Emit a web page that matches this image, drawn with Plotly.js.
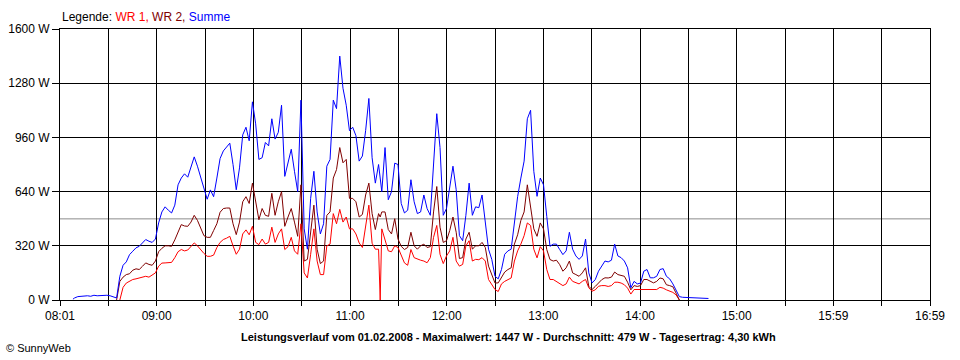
<!DOCTYPE html>
<html>
<head>
<meta charset="utf-8">
<script src="https://cdn.plot.ly/plotly-3.0.1.min.js"></script>
<style>
  html, body { margin: 0; padding: 0; background: #ffffff; }
  #chart { width: 960px; height: 360px; }
</style>
</head>
<body>
<div id="chart"></div>
<script>
// ---- Data ----
const times = [
  "08:09","08:10","08:12","08:14","08:16","08:18","08:20","08:22","08:24","08:26","08:28","08:30","08:32","08:34","08:36",
  "08:38","08:40","08:42","08:44","08:46","08:48","08:50","08:52","08:54","08:56","08:58",
  "09:00","09:02","09:04","09:06","09:08","09:10","09:12","09:14","09:16","09:18","09:20","09:22","09:24","09:26","09:28",
  "09:30","09:32","09:34","09:36","09:38","09:40","09:42","09:44","09:46","09:48","09:50","09:52","09:54","09:56","09:58",
  "10:00","10:02","10:04","10:06","10:08","10:10","10:12","10:14","10:16","10:18","10:20","10:22","10:24","10:26","10:28",
  "10:30","10:32","10:34","10:36","10:38","10:40","10:42","10:44","10:46","10:48","10:50","10:52","10:54","10:56","10:58",
  "11:00","11:02","11:04","11:06","11:08","11:10","11:12","11:14","11:16","11:18","11:19","11:20","11:22","11:24","11:26","11:28",
  "11:30","11:32","11:34","11:36","11:38","11:40","11:42","11:44","11:46","11:48","11:50","11:52","11:54","11:56","11:58",
  "12:00","12:02","12:04","12:06","12:08","12:10","12:12","12:14","12:16","12:18","12:20","12:22","12:24","12:26","12:28",
  "12:30","12:32","12:34","12:36","12:38","12:40","12:42","12:44","12:46","12:48","12:50","12:52","12:54","12:56","12:58",
  "13:00","13:02","13:04","13:06","13:08","13:10","13:12","13:14","13:16","13:18","13:20","13:22","13:24","13:26","13:28",
  "13:30","13:32","13:34","13:36","13:38","13:40","13:42","13:44","13:46","13:48","13:50","13:52","13:54","13:56","13:58",
  "14:00","14:02","14:04","14:06","14:08","14:10","14:12","14:14","14:16","14:18","14:20","14:22","14:24",
  "14:26","14:28","14:30","14:32","14:34","14:36","14:38","14:40","14:42"
];

const summe = [
  5,12,20,22,20,25,22,28,25,27,25,28,25,18,12,
  140,205,225,268,288,308,317,337,357,347,340,
  360,455,520,550,530,514,560,680,720,745,725,790,845,790,720,
  650,595,650,610,720,835,880,906,926,800,651,780,975,1020,940,
  1170,1040,830,840,930,910,1070,950,990,1150,730,805,890,760,640,
  1180,420,300,600,760,520,390,450,790,830,1180,1130,1440,1250,1150,
  1000,1020,970,820,850,1000,1190,840,690,800,700,640,900,592,640,808,
  800,570,514,530,710,580,510,520,620,540,500,830,1100,900,500,
  540,660,790,651,380,350,500,690,500,550,545,620,455,300,240,
  140,125,180,270,290,300,460,610,720,820,1070,1120,760,612,720,
  680,494,317,330,330,298,268,290,400,300,260,240,260,360,160,
  101,120,170,199,230,225,235,330,260,250,230,190,72,110,95,
  100,170,180,131,131,140,180,185,140,125,95,60,20,
  16,15,13,12,14,10,9,9,9
];

const wr2 = [
  null,null,null,null,null,null,null,null,null,null,null,null,null,null,0,
  110,135,150,155,176,184,180,199,219,210,205,
  230,285,305,320,320,317,355,406,445,437,435,460,500,470,430,
  380,370,370,410,450,518,540,543,543,450,386,460,580,610,570,
  690,580,474,540,500,494,630,500,580,640,435,490,540,460,376,
  680,230,240,420,560,300,215,230,500,520,720,770,900,810,830,
  600,600,580,490,505,620,690,510,416,510,490,520,520,416,390,480,
  360,317,298,310,400,320,300,320,330,310,315,520,670,430,340,
  350,410,490,400,245,250,360,400,300,320,320,340,310,200,150,
  100,101,130,165,180,190,330,385,470,520,680,540,420,376,455,
  420,298,239,230,235,209,170,190,230,160,150,140,160,190,81,
  62,80,101,120,131,130,135,165,150,145,140,105,60,85,80,
  85,121,121,110,101,110,130,125,90,85,78,40,0,
  null,null,null,null,null,null,null,null,null
];

const wr1 = [
  null,null,null,null,null,null,null,null,null,null,null,null,null,null,null,
  0,75,100,111,121,125,131,134,140,135,145,
  160,200,218,219,219,222,250,285,298,290,295,315,337,320,295,
  275,258,258,265,310,340,357,365,376,320,270,300,390,414,385,
  435,340,327,360,330,340,430,340,390,420,298,315,370,290,270,
  450,160,130,270,420,230,150,150,320,330,510,450,535,460,490,
  420,420,390,337,310,440,560,335,300,300,0,420,350,290,285,320,
  310,258,219,205,298,250,240,235,230,220,250,370,440,270,215,
  260,290,370,230,200,210,320,350,230,240,238,250,230,121,90,
  62,50,95,110,120,130,230,290,330,380,455,440,300,249,315,
  290,180,121,121,110,101,85,95,135,110,100,95,110,121,72,
  52,60,81,85,85,80,85,105,105,100,90,70,35,62,62,
  62,62,62,62,65,62,75,70,60,52,45,30,0,
  null,null,null,null,null,null,null,null,null
];

const average = 479;

const xTickLabels = ["08:01","","09:00","","10:00","","11:00","","12:00","","13:00","","14:00","","15:00","","15:59","","16:59"];
const yTickValues = [0, 320, 640, 960, 1280, 1600];
const yTickLabels = ["0 W","320 W","640 W","960 W","1280 W","1600 W"];

const dayStart = "08:01";
const dayEnd = "16:59";
const titleText = "Leistungsverlauf vom 01.02.2008 - Maximalwert: 1447 W - Durchschnitt: 479 W - Tagesertrag: 4,30 kWh";

// ---- Build ----
const toMin = s => { const p = s.split(':').map(Number); return p[0] * 60 + p[1]; };
const xs = times.map(toMin);
const x0 = toMin(dayStart), x1 = toMin(dayEnd);
const xTickVals = xTickLabels.map((_, i) => x0 + i * (x1 - x0) / (xTickLabels.length - 1));

const font = "Liberation Sans, Arial, sans-serif";

const traces = [
  { x: xs, y: wr1, type: 'scatter', mode: 'lines', name: 'WR 1',
    line: { color: '#ff0000', width: 1 }, connectgaps: false, hoverinfo: 'skip' },
  { x: xs, y: wr2, type: 'scatter', mode: 'lines', name: 'WR 2',
    line: { color: '#800000', width: 1 }, connectgaps: false, hoverinfo: 'skip' },
  { x: xs, y: summe, type: 'scatter', mode: 'lines', name: 'Summe',
    line: { color: '#0000ff', width: 1 }, connectgaps: false, hoverinfo: 'skip' }
];

const layout = {
  width: 960, height: 360,
  margin: { l: 60, r: 30, t: 29, b: 60 },
  paper_bgcolor: '#ffffff', plot_bgcolor: '#ffffff',
  showlegend: false,
  font: { family: font, size: 12, color: '#000000' },
  xaxis: {
    range: [x0, x1], tickmode: 'array', tickvals: xTickVals, ticktext: xTickLabels,
    showgrid: true, gridcolor: '#000000', gridwidth: 1, zeroline: false,
    showline: true, linecolor: '#000000', linewidth: 1, mirror: true,
    ticks: 'outside', ticklen: 5, tickcolor: '#000000', tickwidth: 1,
    tickfont: { family: font, size: 12, color: '#000000' }, fixedrange: true
  },
  yaxis: {
    range: [0, 1600], tickmode: 'array', tickvals: yTickValues, ticktext: yTickLabels,
    showgrid: true, gridcolor: '#000000', gridwidth: 1, zeroline: false,
    showline: true, linecolor: '#000000', linewidth: 1, mirror: true,
    ticks: 'outside', ticklen: 7, tickcolor: '#000000', tickwidth: 1,
    tickfont: { family: font, size: 12, color: '#000000' }, fixedrange: true
  },
  shapes: [
    { type: 'line', xref: 'paper', x0: 0, x1: 1, yref: 'y', y0: average, y1: average,
      line: { color: '#8c8c8c', width: 1 }, layer: 'below' }
  ],
  annotations: [
    { xref: 'paper', yref: 'paper', x: 0, y: 1.044, xanchor: 'left', yanchor: 'middle',
      showarrow: false, font: { family: font, size: 12, color: '#000000' },
      text: 'Legende: <span style="color:#ff0000">WR 1, </span><span style="color:#800000">WR 2, </span><span style="color:#0000ff">Summe</span>' },
    { xref: 'paper', yref: 'paper', x: 0.516, y: -0.1365, xanchor: 'center', yanchor: 'middle',
      showarrow: false, font: { family: font, size: 11, color: '#000000' },
      text: '<b>' + titleText + '</b>' },
    { xref: 'paper', yref: 'paper', x: -0.0644, y: -0.177, xanchor: 'left', yanchor: 'middle',
      showarrow: false, font: { family: font, size: 11, color: '#000000' },
      text: '© SunnyWeb' }
  ]
};

Plotly.newPlot('chart', traces, layout, { staticPlot: true, displayModeBar: false });
</script>
</body>
</html>
